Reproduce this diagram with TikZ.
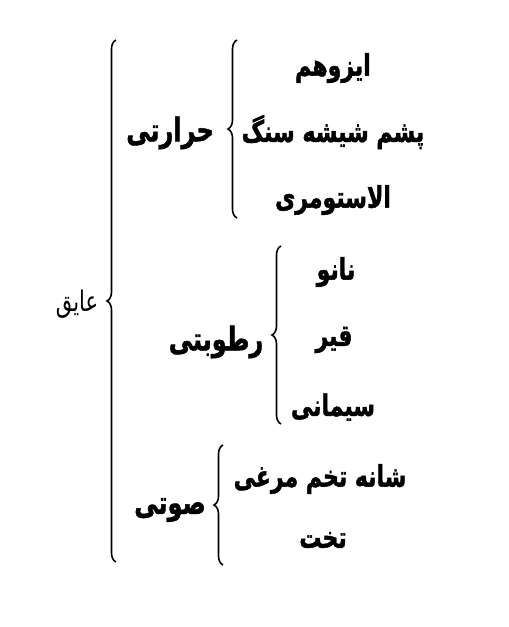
\documentclass[tikz,border=0pt]{standalone}
\usepackage{fontspec}
\usepackage{graphicx}
\newfontfamily\arabicfont[Script=Arabic, BoldFeatures={FakeBold=1.6}]{DejaVu Sans}
\TeXXeTstate=1
\usetikzlibrary{decorations.pathreplacing}
\newcommand{\tall}[1]{\scalebox{1}[1.35]{\beginR #1\endR}}
\tikzset{
	item/.style={inner sep=0pt, font=\arabicfont\bfseries\fontsize{22}{26}\selectfont},
	group/.style={inner sep=0pt, font=\arabicfont\bfseries\fontsize{24}{28}\selectfont},
	curly/.style={decorate, line width=1.6pt, decoration={brace, amplitude=9pt, aspect=0.5}}
}

\begin{document}
\begin{tikzpicture}[x=1pt, y=-1pt]
	\useasboundingbox (0, 0) rectangle (509, 627);
	% root
	\node [style={inner sep=0pt, font=\arabicfont\fontsize{21}{25}\selectfont}] (root) at (77, 304) {\tall{عایق}};
	\coordinate (bigtop) at (116, 40);
	\coordinate (bigbot) at (116, 562);
	% groups
	\node [group] (heat) at (170, 133) {\tall{حرارتی}};
	\node [group] (damp) at (216, 342) {\tall{رطوبتی}};
	\node [group] (sound) at (170, 510) {\tall{صوتی}};
	\coordinate (heattop) at (237, 40);
	\coordinate (heatbot) at (237, 218);
	\coordinate (damptop) at (281, 246);
	\coordinate (dampbot) at (281, 424);
	\coordinate (soundtop) at (223, 445);
	\coordinate (soundbot) at (223, 565);
	% items
	\node [item] (isoham) at (333, 68) {\tall{ایزوهم}};
	\node [item] (wool) at (333, 132) {\tall{پشم شیشه سنگ}};
	\node [item] (elasto) at (333, 200) {\tall{الاستومری}};
	\node [item] (nano) at (336, 272) {\tall{نانو}};
	\node [item] (tar) at (334, 340) {\tall{قیر}};
	\node [item] (cement) at (333, 407) {\tall{سیمانی}};
	\node [item] (eggbox) at (320, 479) {\tall{شانه تخم مرغی}};
	\node [item] (flat) at (323, 540) {\tall{تخت}};
	% braces
	\draw [curly] (bigbot) to (bigtop);
	\draw [curly] (heatbot) to (heattop);
	\draw [curly] (dampbot) to (damptop);
	\draw [curly] (soundbot) to (soundtop);
\end{tikzpicture}
\end{document}
